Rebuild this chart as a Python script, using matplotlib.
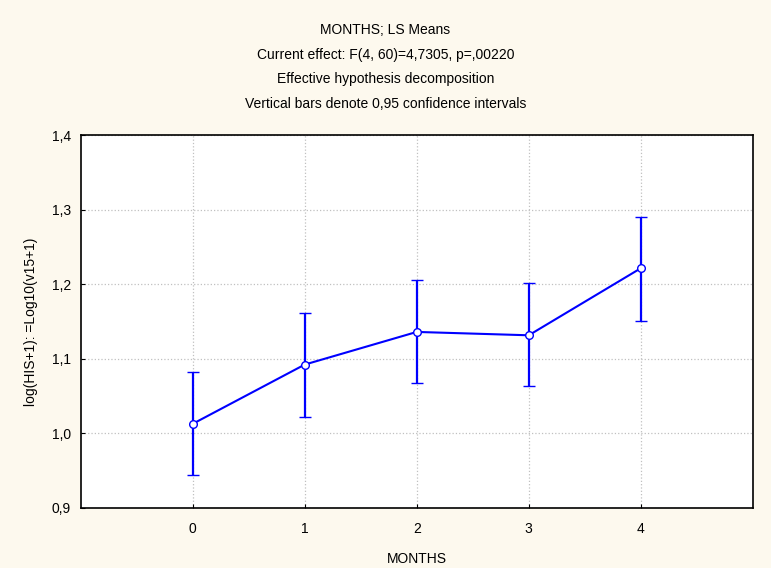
import matplotlib
matplotlib.use('Agg')
import matplotlib.pyplot as plt

months = [0, 1, 2, 3, 4]
ls_means = [1.0125, 1.092, 1.1358, 1.1313, 1.2212]
ci_lower = [0.9432, 1.0219, 1.0678, 1.0628, 1.1504]
ci_upper = [1.0819, 1.1615, 1.2058, 1.2013, 1.2905]

title_lines = ["MONTHS; LS Means",
               "Current effect: F(4, 60)=4,7305, p=,00220",
               "Effective hypothesis decomposition",
               "Vertical bars denote 0,95 confidence intervals"]

plt.rcParams['font.family'] = ['Liberation Sans', 'DejaVu Sans']
plt.rcParams['font.size'] = 10

fig = plt.figure(figsize=(7.71, 5.68), dpi=100)
fig.patch.set_facecolor('#fdf9ee')
ax = fig.add_axes([0.1047, 0.1062, 0.8716, 0.6561])
ax.set_facecolor('white')

yerr = [[m - lo for m, lo in zip(ls_means, ci_lower)],
        [hi - m for m, hi in zip(ls_means, ci_upper)]]
ax.errorbar(months, ls_means, yerr=yerr, color='#0000ff', lw=1.5,
            elinewidth=1.6, capsize=4, capthick=1.6,
            marker='o', markersize=5.5, markerfacecolor='white',
            markeredgecolor='#0000ff', markeredgewidth=1.0, zorder=3)

ax.set_xlim(-1, 5)
ax.set_ylim(0.9, 1.4)
ax.set_xticks(months)
ax.set_yticks([0.9, 1.0, 1.1, 1.2, 1.3, 1.4])
ax.set_yticklabels(['0,9', '1,0', '1,1', '1,2', '1,3', '1,4'])
ax.grid(True, color='#c0c0c0', linestyle=':', linewidth=0.9)
ax.tick_params(direction='in', length=3, width=0.8)
ax.tick_params(axis='x', pad=10)
ax.tick_params(axis='y', pad=7)
for s in ax.spines.values():
    s.set_linewidth(1.2)

ax.set_xlabel('MONTHS', labelpad=12)
ax.set_ylabel('log(HIS+1): =Log10(v15+1)', labelpad=10)

for i, t in enumerate(title_lines):
    fig.text(0.5, 1 - (30 + i * 24.5) / 568, t, ha='center', va='center')

fig.savefig('out.png', dpi=100, facecolor=fig.get_facecolor())
